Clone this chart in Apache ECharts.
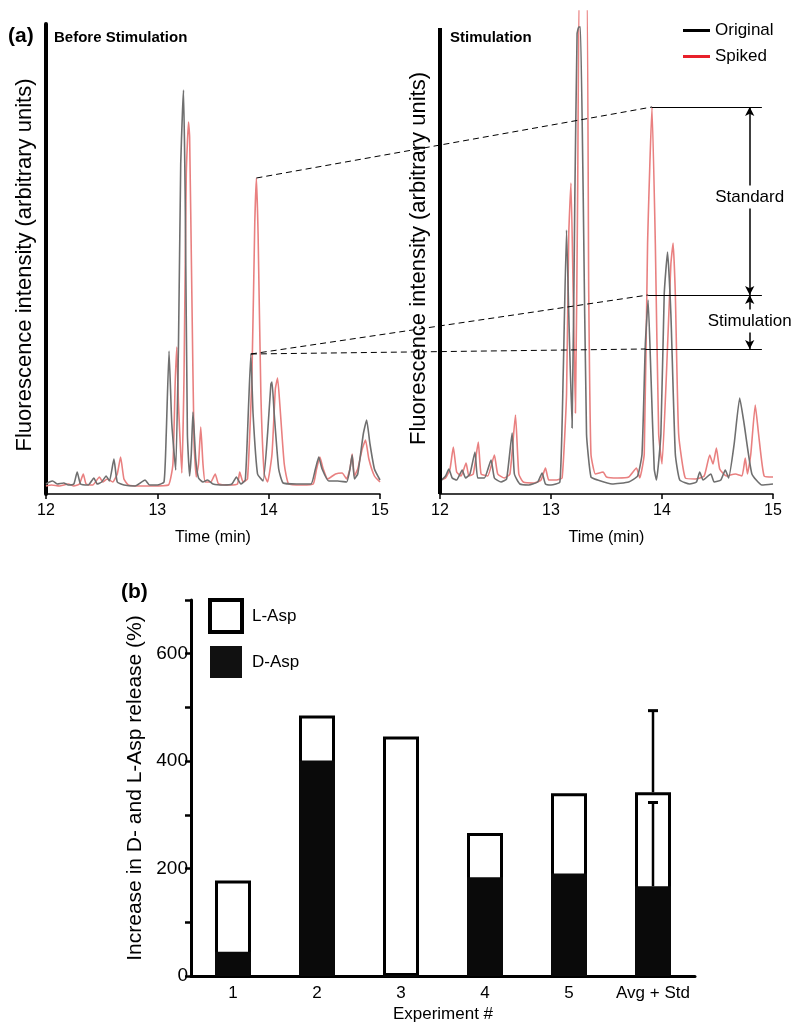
<!DOCTYPE html>
<html>
<head>
<meta charset="utf-8">
<script src="https://cdn.jsdelivr.net/npm/echarts@6/dist/echarts.min.js"></script>
<style>html,body{margin:0;padding:0;background:#fff}#c{width:800px;height:1032px}</style>
</head>
<body>
<div id="c"></div>
<script>
// ---------- Panel (a): chromatograms, [time (min), intensity (a.u.)] ----------
const leftOriginal = [[12.00,10],[12.03,12],[12.06,13],[12.10,10],[12.16,11],[12.20,9],[12.25,10],[12.28,22],[12.31,10],[12.38,9],[12.43,16],[12.46,10],[12.50,12],[12.54,18],[12.57,13],[12.61,35],[12.64,12],[12.70,9],[12.80,8],[12.89,14],[12.93,9],[13.00,9],[13.06,12],[13.08,60],[13.105,143],[13.13,70],[13.165,24],[13.19,150],[13.21,330],[13.225,380],[13.235,404],[13.25,300],[13.27,60],[13.29,18],[13.305,40],[13.32,82],[13.345,35],[13.37,16],[13.41,12],[13.45,14],[13.50,10],[13.60,9],[13.67,10],[13.71,17],[13.75,10],[13.79,14],[13.82,90],[13.84,140],[13.86,80],[13.90,20],[13.95,13],[13.99,60],[14.02,110],[14.03,112],[14.05,80],[14.09,25],[14.13,11],[14.25,10],[14.38,10],[14.42,25],[14.45,37],[14.48,25],[14.54,13],[14.62,13],[14.70,12],[14.73,25],[14.75,39],[14.77,15],[14.80,20],[14.85,60],[14.88,74],[14.91,50],[14.95,25],[15.00,14]];
const leftSpiked = [[12.00,8],[12.05,9],[12.12,8],[12.20,10],[12.25,8],[12.30,10],[12.335,20],[12.36,10],[12.42,9],[12.48,17],[12.51,12],[12.55,15],[12.60,12],[12.64,20],[12.67,37],[12.70,15],[12.74,9],[12.85,8],[12.95,8],[13.10,9],[13.14,30],[13.16,110],[13.175,147],[13.19,90],[13.22,21],[13.24,120],[13.26,320],[13.28,372],[13.29,357],[13.31,200],[13.33,50],[13.35,17],[13.37,30],[13.39,67],[13.41,30],[13.43,12],[13.48,12],[13.52,20],[13.55,10],[13.65,9],[13.72,10],[13.74,22],[13.77,12],[13.81,15],[13.85,120],[13.875,270],[13.89,316],[13.905,260],[13.93,100],[13.96,20],[13.99,12],[14.03,40],[14.06,105],[14.08,116],[14.10,90],[14.14,30],[14.18,10],[14.30,9],[14.40,10],[14.43,25],[14.46,37],[14.49,25],[14.53,15],[14.60,20],[14.66,21],[14.70,15],[14.73,25],[14.75,40],[14.77,18],[14.80,25],[14.84,45],[14.87,54],[14.90,35],[14.95,18],[15.00,12]];
const rightOriginal = [[12.00,12],[12.015,14],[12.05,18],[12.08,25],[12.11,16],[12.15,14],[12.20,24],[12.23,16],[12.27,20],[12.315,42],[12.34,16],[12.40,16],[12.46,34],[12.49,16],[12.55,12],[12.60,15],[12.65,61],[12.67,20],[12.72,10],[12.80,9],[12.88,12],[12.92,21],[12.95,10],[13.00,9],[13.08,12],[13.11,120],[13.14,264],[13.16,180],[13.19,66],[13.215,300],[13.235,460],[13.25,467],[13.265,467],[13.29,300],[13.32,60],[13.36,17],[13.42,14],[13.55,10],[13.70,12],[13.78,18],[13.82,40],[13.85,150],[13.875,194],[13.90,120],[13.93,25],[13.95,14],[13.99,60],[14.02,200],[14.05,242],[14.08,180],[14.12,40],[14.16,14],[14.25,10],[14.31,12],[14.34,22],[14.37,14],[14.44,20],[14.47,12],[14.53,14],[14.57,24],[14.60,16],[14.65,50],[14.70,96],[14.74,70],[14.81,20],[14.90,9],[15.00,10]];
const rightSpiked = [[12.00,14],[12.05,16],[12.09,25],[12.12,47],[12.15,22],[12.19,18],[12.235,31],[12.26,18],[12.30,20],[12.345,52],[12.37,20],[12.43,18],[12.49,39],[12.52,20],[12.58,16],[12.63,20],[12.68,79],[12.71,20],[12.75,12],[12.85,11],[12.91,14],[12.95,26],[12.98,14],[13.05,14],[13.10,16],[13.14,100],[13.16,260],[13.18,311],[13.20,200],[13.22,81],[13.24,300],[13.26,520],[13.32,520],[13.34,200],[13.36,40],[13.40,20],[13.47,22],[13.50,17],[13.60,16],[13.70,17],[13.77,26],[13.80,16],[13.84,40],[13.87,250],[13.91,387],[13.94,250],[13.97,60],[14.00,30],[14.04,120],[14.08,230],[14.10,251],[14.12,200],[14.15,60],[14.21,16],[14.30,15],[14.38,18],[14.43,39],[14.46,30],[14.49,46],[14.52,25],[14.58,18],[14.66,20],[14.72,18],[14.75,36],[14.77,20],[14.80,40],[14.84,89],[14.87,60],[14.92,18],[15.00,17]];
const timeTicks = [12, 13, 14, 15];

// annotation anchors (data coordinates)
const leftSpikedApex = [13.89, 316];
const leftOriginalApex = [13.84, 140];
const rightStandardLevel = [13.91, 387];
const rightStimTopLevel = [13.875, 199];
const rightStimBottomLevel = [13.85, 145];
const annotEndTime = 14.90;
const arrowTime = 14.79;
const standardLabelPos = [14.79, 297];
const stimulationLabelPos = [14.79, 173];
const rightAxisTop = 466;

// ---------- Panel (b): bar chart ----------
const experiments = ['1', '2', '3', '4', '5', 'Avg + Std'];
const lAsp = [178, 485, 446, 266, 340, 342];
const dAsp = [45, 401, 0, 184, 191, 167];
const errorBars = [[5, 342, 494], [5, 167, 323]]; // [category index, mean, mean + std]

const FONT = "'Liberation Sans', Arial, Helvetica, sans-serif";
const GREY = '#6f6f6f';
const RED = '#e98080';

const chart = echarts.init(document.getElementById('c'), null, {renderer: 'canvas'});

function timeAxis(gi) {
  return {
    type: 'value', gridIndex: gi, min: 12, max: 15, interval: 1,
    name: 'Time (min)', nameLocation: 'middle', nameGap: 36,
    nameTextStyle: {fontSize: 16, color: '#000', fontFamily: FONT},
    axisLine: {show: true, lineStyle: {color: '#000', width: 1.5}},
    axisTick: {show: true, length: 5, lineStyle: {color: '#000', width: 1.5}},
    axisLabel: {fontSize: 16, color: '#000', margin: 9, fontFamily: FONT},
    splitLine: {show: false}
  };
}
function intensityAxis(gi, max, showLine) {
  return {
    type: 'value', gridIndex: gi, min: 0, max: max,
    name: 'Fluorescence intensity (arbitrary units)', nameLocation: 'middle', nameGap: 10,
    nameTextStyle: {fontSize: 22, color: '#000', fontFamily: FONT, padding: [0, 12, 0, 0]},
    axisLine: {show: showLine, lineStyle: {color: '#000', width: 4}},
    axisTick: {show: false}, axisLabel: {show: false}, splitLine: {show: false}
  };
}
function trace(name, gi, data, color, z) {
  return {
    name: name, type: 'line', xAxisIndex: gi, yAxisIndex: gi, data: data,
    showSymbol: false, symbol: 'none', smooth: 0.15, clip: true, z: z,
    lineStyle: {color: color, width: 1.6, join: 'round'}, itemStyle: {color: color}, animation: false
  };
}

const option = {
  animation: false,
  textStyle: {fontFamily: FONT, color: '#000'},
  title: [
    {text: '(a)', left: 8, top: 26, padding: 0, textStyle: {fontSize: 21, fontWeight: 'bold', color: '#000', fontFamily: FONT}},
    {text: 'Before Stimulation', left: 54, top: 30, padding: 0, textStyle: {fontSize: 15, fontWeight: 'bold', color: '#000', fontFamily: FONT}},
    {text: 'Stimulation', left: 450, top: 30, padding: 0, textStyle: {fontSize: 15, fontWeight: 'bold', color: '#000', fontFamily: FONT}},
    {text: '(b)', left: 121, top: 582, padding: 0, textStyle: {fontSize: 21, fontWeight: 'bold', color: '#000', fontFamily: FONT}}
  ],
  legend: [
    {
      data: [
        {name: 'Original', itemStyle: {color: '#000'}},
        {name: 'Spiked', itemStyle: {color: '#e8202a'}}
      ],
      orient: 'vertical', left: 683, top: 22, padding: 0, icon: 'rect',
      itemWidth: 27, itemHeight: 3, itemGap: 9,
      textStyle: {fontSize: 17, color: '#000', fontFamily: FONT}
    },
    {
      data: [
        {name: 'L-Asp', icon: 'rect', itemStyle: {color: '#fff', borderColor: '#000', borderWidth: 4}},
        {name: 'D-Asp', icon: 'rect', itemStyle: {color: '#111', borderColor: '#111', borderWidth: 0}}
      ],
      orient: 'vertical', left: 208, top: 598, padding: 0,
      itemWidth: 32, itemHeight: 32, itemGap: 12,
      textStyle: {fontSize: 17, color: '#000', fontFamily: FONT, padding: [0, 0, 0, 5]}
    }
  ],
  grid: [
    {left: 46, right: 420, top: 24, bottom: 538},
    {left: 440, right: 27, top: 11, bottom: 538},
    {left: 191, right: 105, top: 600, bottom: 56}
  ],
  xAxis: [
    timeAxis(0), timeAxis(1),
    {
      type: 'category', gridIndex: 2, data: experiments,
      name: 'Experiment #', nameLocation: 'middle', nameGap: 30,
      nameTextStyle: {fontSize: 17, color: '#000', fontFamily: FONT},
      axisLine: {show: true, lineStyle: {color: '#000', width: 3}},
      axisTick: {show: false},
      axisLabel: {interval: 0, fontSize: 17, color: '#000', margin: 9, fontFamily: FONT}
    }
  ],
  yAxis: [
    intensityAxis(0, 470, true),
    intensityAxis(1, 483, false),
    {
      type: 'value', gridIndex: 2, min: 0, max: 700, interval: 100,
      name: 'Increase in D- and L-Asp release (%)', nameLocation: 'middle', nameGap: 44,
      nameTextStyle: {fontSize: 21, color: '#000', fontFamily: FONT},
      axisLine: {show: true, lineStyle: {color: '#000', width: 3}},
      axisTick: {show: true, length: 6, lineStyle: {color: '#000', width: 2.5}},
      axisLabel: {fontSize: 19, color: '#000', margin: 3, fontFamily: FONT,
        formatter: v => (v % 200 === 0 ? String(v) : '')},
      splitLine: {show: false}
    }
  ],
  series: [
    trace('Spiked', 0, leftSpiked, RED, 2),
    trace('Original', 0, leftOriginal, GREY, 3),
    trace('Spiked', 1, rightSpiked, RED, 2),
    trace('Original', 1, rightOriginal, GREY, 3),
    {
      name: 'annot', type: 'line', xAxisIndex: 1, yAxisIndex: 1, data: [], clip: false, z: 5,
      markLine: {
        silent: true, animation: false, symbol: ['none', 'none'],
        label: {show: false},
        lineStyle: {color: '#000', width: 1, type: 'solid'},
        data: [
          [{coord: rightStandardLevel}, {coord: [annotEndTime, rightStandardLevel[1]]}],
          [{coord: rightStimTopLevel}, {coord: [annotEndTime, rightStimTopLevel[1]]}],
          [{coord: rightStimBottomLevel}, {coord: [annotEndTime, rightStimBottomLevel[1]]}],
          [{coord: [12, 0], lineStyle: {width: 4}}, {coord: [12, rightAxisTop]}],
          [{coord: [arrowTime, rightStimTopLevel[1]], symbol: 'arrow', symbolSize: [7, 9], lineStyle: {width: 1.5}},
           {coord: [arrowTime, rightStandardLevel[1]], symbol: 'arrow', symbolSize: [7, 9]}],
          [{coord: [arrowTime, rightStimBottomLevel[1]], symbol: 'arrow', symbolSize: [7, 9], lineStyle: {width: 1.5}},
           {coord: [arrowTime, rightStimTopLevel[1]], symbol: 'arrow', symbolSize: [7, 9]}]
        ]
      }
    },
    {
      name: 'annotText', type: 'line', xAxisIndex: 1, yAxisIndex: 1, data: [], clip: false, z: 8,
      markPoint: {
        silent: true, animation: false, symbol: 'rect', symbolSize: 1,
        itemStyle: {color: 'rgba(0,0,0,0)'},
        label: {show: true, position: 'inside', color: '#000', fontSize: 17, fontFamily: FONT,
          backgroundColor: '#fff', padding: [3, 1]},
        data: [
          {coord: standardLabelPos, label: {formatter: 'Standard'}},
          {coord: stimulationLabelPos, label: {formatter: 'Stimulation'}}
        ]
      }
    },
    {
      name: 'L-Asp', type: 'bar', xAxisIndex: 2, yAxisIndex: 2, data: lAsp,
      barWidth: 36, barGap: '-100%', z: 2,
      itemStyle: {color: '#fff', borderColor: '#000', borderWidth: 3}
    },
    {
      name: 'D-Asp', type: 'bar', xAxisIndex: 2, yAxisIndex: 2, data: dAsp,
      barWidth: 36, barGap: '-100%', z: 3,
      itemStyle: {color: '#0a0a0a', borderColor: '#0a0a0a', borderWidth: 1.5}
    },
    {
      name: 'err', type: 'custom', xAxisIndex: 2, yAxisIndex: 2, data: errorBars, z: 10,
      encode: {x: 0, y: [1, 2]},
      renderItem: function (params, api) {
        const base = api.coord([api.value(0), api.value(1)]);
        const top = api.coord([api.value(0), api.value(2)]);
        const w = 5;
        return {
          type: 'group',
          children: [
            {type: 'line', shape: {x1: base[0], y1: base[1], x2: top[0], y2: top[1]}, style: {stroke: '#000', lineWidth: 2.5}},
            {type: 'line', shape: {x1: top[0] - w, y1: top[1], x2: top[0] + w, y2: top[1]}, style: {stroke: '#000', lineWidth: 3}}
          ]
        };
      }
    }
  ]
};

chart.setOption(option);

// dashed connector lines between the two chromatograms, anchored to data points
function px(gi, pt) { return chart.convertToPixel({gridIndex: gi}, pt); }
const connectors = [
  [px(0, leftSpikedApex), px(1, rightStandardLevel)],
  [px(0, leftOriginalApex), px(1, rightStimTopLevel)],
  [px(0, leftOriginalApex), px(1, rightStimBottomLevel)]
];
chart.setOption({
  graphic: connectors.map(c => ({
    type: 'line', silent: true, z: 20,
    shape: {x1: c[0][0], y1: c[0][1], x2: c[1][0], y2: c[1][1]},
    style: {stroke: '#000', lineWidth: 1, lineDash: [6, 4]}
  }))
});
</script>
</body>
</html>
